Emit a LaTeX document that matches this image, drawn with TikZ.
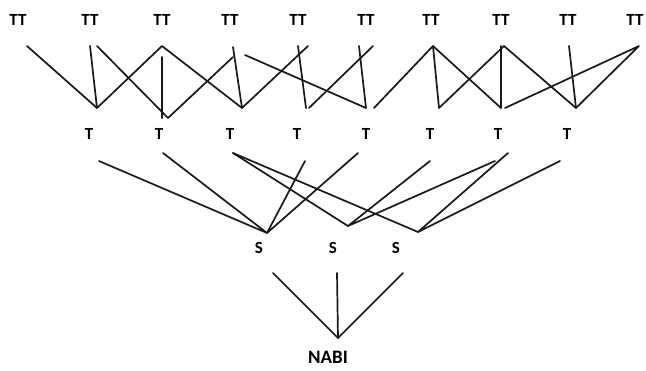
\documentclass[tikz,border=0pt]{standalone}
\usepackage{fontspec}
\setmainfont{Carlito}
\begin{document}
\begin{tikzpicture}[x=1pt,y=-1pt,
  lbl/.style={font=\fontsize{17}{17}\selectfont\bfseries, inner sep=0pt},
  biglbl/.style={lbl, font=\fontsize{19}{19}\selectfont\bfseries},
  edge/.style={line width=1.7pt, line cap=round, line join=round, black!90}]
\useasboundingbox (0,0) rectangle (646,370);

% labels
\foreach \x [count=\i] in {18,90,162,230,298,366,431,501,568,635}
  \node[lbl] (tt\i) at (\x,20) {TT};
\foreach \x [count=\i] in {89,159,230,297,366,430,498,567}
  \node[lbl] (t\i) at (\x,134) {T};
\node[lbl] (s1) at (259,248) {S};
\node[lbl] (s2) at (333,248) {S};
\node[lbl] (s3) at (396,248) {S};
\node[biglbl] (nabi) at (328,357) {NABI};

% upper level end points
\coordinate (a1) at (27,46);
\coordinate (a2) at (90,46);
\coordinate (a2b) at (97,46);
\coordinate (a3) at (162,46);
\coordinate (a3v) at (162,57);
\coordinate (a4) at (233,47);
\coordinate (a4b) at (233,57);
\coordinate (a5c) at (245,55);
\coordinate (a5t) at (298,46);
\coordinate (a5) at (308,46);
\coordinate (a6t) at (359,46);
\coordinate (a6) at (373,46);
\coordinate (a7) at (433,46);
\coordinate (a8) at (504,46);
\coordinate (a8v) at (501,46);
\coordinate (a9) at (569,46);
\coordinate (a10) at (639,46);

\coordinate (b1) at (97,108);
\coordinate (b2) at (168,118);
\coordinate (b2v) at (162,118);
\coordinate (b3) at (242,108);
\coordinate (b4) at (306,108);
\coordinate (b4r) at (309,108);
\coordinate (b5) at (366,108);
\coordinate (b5r) at (374,108);
\coordinate (b6) at (439,108);
\coordinate (b7) at (501,108);
\coordinate (b7r) at (505,108);
\coordinate (b8) at (576,108);

% middle level end points
\coordinate (m1) at (99,161);
\coordinate (m2) at (163,153);
\coordinate (m3) at (233,153);
\coordinate (m4) at (305,161);
\coordinate (m5) at (358,153);
\coordinate (m6) at (430,161);
\coordinate (m7) at (495,161);
\coordinate (m7b) at (508,153);
\coordinate (m8) at (560,161);
\coordinate (v1) at (267,233);
\coordinate (v2) at (348,226);
\coordinate (v3) at (418,232);

% lower level end points
\coordinate (n1) at (273,273);
\coordinate (n2) at (337,273);
\coordinate (n3) at (403,273);
\coordinate (n0) at (338,338);

% TT to T
\draw[edge] (a1) -- (b1) -- (a2);
\draw[edge] (b1) -- (a3) -- (b3);
\draw[edge] (a2b) -- (b2) -- (a4b);
\draw[edge] (a3v) -- (b2v);
\draw[edge] (a4) -- (b3) -- (a5);
\draw[edge] (a5c) -- (b5) -- (a6t);
\draw[edge] (a5t) -- (b4);
\draw[edge] (b4r) -- (a6);
\draw[edge] (b5r) -- (a7) -- (b6) -- (a8);
\draw[edge] (a7) -- (b7);
\draw[edge] (a8v) -- (b7);
\draw[edge] (a8) -- (b8) -- (a10) -- (b7r);
\draw[edge] (a9) -- (b8);

% T to S
\draw[edge] (m1) -- (v1) -- (m2);
\draw[edge] (m4) -- (v1) -- (m5);
\draw[edge] (m3) -- (v2);
\draw[edge] (m3) -- (v3);
\draw[edge] (m6) -- (v2) -- (m7);
\draw[edge] (m7b) -- (v3) -- (m8);

% S to NABI
\draw[edge] (n1) -- (n0) -- (n2);
\draw[edge] (n3) -- (n0);
\end{tikzpicture}
\end{document}
